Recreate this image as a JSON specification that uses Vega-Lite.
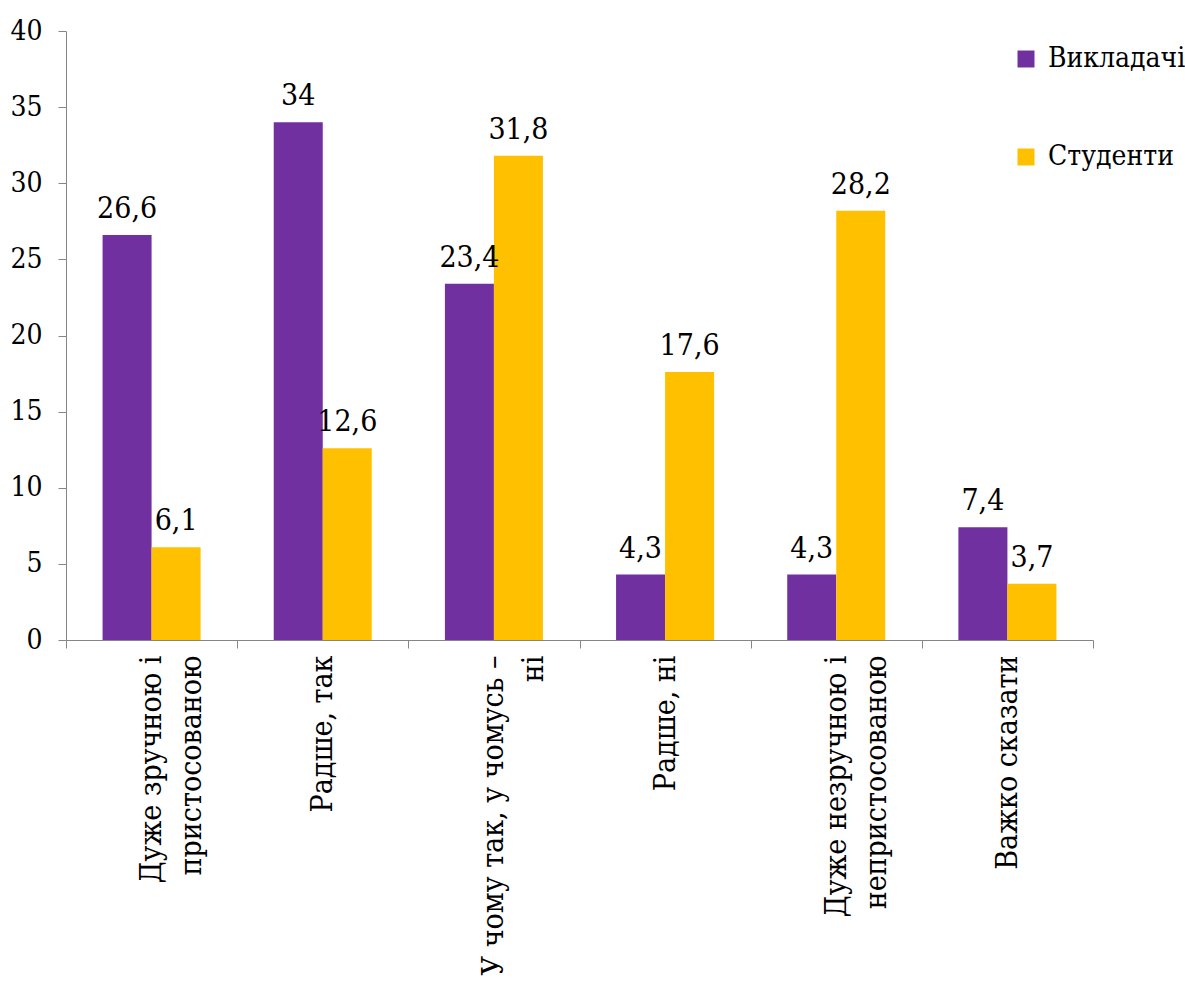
{
  "$schema": "https://vega.github.io/schema/vega-lite/v6.json",
  "width": 1027,
  "height": 609,
  "autosize": {"type": "none"},
  "padding": {"left": 66, "top": 31, "right": 92, "bottom": 359},
  "background": "white",
  "config": {
    "view": {"stroke": null},
    "font": "DejaVu Serif Condensed",
    "locale": {
      "number": {"decimal": ",", "thousands": " ", "grouping": [3], "currency": ["", ""]}
    }
  },
  "data": {
    "values": [
      {"cat": "Дуже зручною і|пристосованою", "group": "Викладачі", "value": 26.6},
      {"cat": "Дуже зручною і|пристосованою", "group": "Студенти", "value": 6.1},
      {"cat": "Радше, так", "group": "Викладачі", "value": 34},
      {"cat": "Радше, так", "group": "Студенти", "value": 12.6},
      {"cat": "У чому так, у чомусь –|ні", "group": "Викладачі", "value": 23.4},
      {"cat": "У чому так, у чомусь –|ні", "group": "Студенти", "value": 31.8},
      {"cat": "Радше, ні", "group": "Викладачі", "value": 4.3},
      {"cat": "Радше, ні", "group": "Студенти", "value": 17.6},
      {"cat": "Дуже незручною і|непристосованою", "group": "Викладачі", "value": 4.3},
      {"cat": "Дуже незручною і|непристосованою", "group": "Студенти", "value": 28.2},
      {"cat": "Важко сказати", "group": "Викладачі", "value": 7.4},
      {"cat": "Важко сказати", "group": "Студенти", "value": 3.7}
    ]
  },
  "encoding": {
    "x": {
      "field": "cat",
      "type": "nominal",
      "sort": null,
      "scale": {"paddingInner": 0, "paddingOuter": 0},
      "axis": {
        "title": null,
        "labelFont": "DejaVu Serif Condensed",
        "labelAngle": 270,
        "labelAlign": "right",
        "labelBaseline": "middle",
        "labelFontSize": 30,
        "labelColor": "black",
        "labelLineHeight": 40,
        "labelPadding": 7,
        "labelExpr": "split(datum.label, '|')",
        "tickBand": "extent",
        "tickSize": 8,
        "tickColor": "#868686",
        "domainColor": "#868686",
        "labelLimit": 0
      }
    },
    "xOffset": {
      "field": "group",
      "type": "nominal",
      "scale": {"domain": ["Викладачі", "Студенти"], "paddingInner": 0, "paddingOuter": 0.746}
    },
    "y": {
      "field": "value",
      "type": "quantitative",
      "scale": {"domain": [0, 40]},
      "axis": {
        "title": null,
        "labelFont": "DejaVu Serif Condensed",
        "values": [0, 5, 10, 15, 20, 25, 30, 35, 40],
        "grid": false,
        "labelFontSize": 28,
        "labelColor": "black",
        "labelPadding": 16,
        "tickSize": 8,
        "tickColor": "#868686",
        "domainColor": "#868686"
      }
    }
  },
  "layer": [
    {
      "mark": {"type": "bar"},
      "encoding": {
        "color": {
          "field": "group",
          "type": "nominal",
          "scale": {"domain": ["Викладачі", "Студенти"], "range": ["#7030A0", "#FFC000"]},
          "legend": {
            "title": null,
            "orient": "none",
            "legendX": 946,
            "legendY": 14,
            "padding": 0,
            "symbolType": "square",
            "symbolSize": 289,
            "symbolStrokeWidth": 0,
            "labelFont": "DejaVu Serif Condensed",
            "labelFontSize": 28,
            "labelColor": "black",
            "labelOffset": 8,
            "rowPadding": 70,
            "labelLimit": 0
          }
        }
      }
    },
    {
      "mark": {"type": "text", "font": "DejaVu Serif Condensed", "baseline": "alphabetic", "dy": -17, "fontSize": 30, "color": "black"},
      "encoding": {
        "text": {"field": "value", "type": "quantitative", "format": ".1~f"}
      }
    }
  ]
}
